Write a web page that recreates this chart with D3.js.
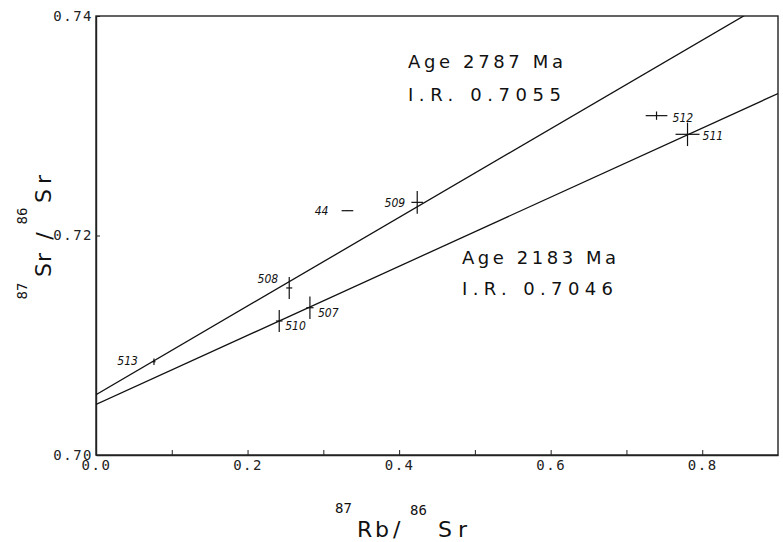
<!DOCTYPE html>
<html lang="en">
<head>
    <meta charset="UTF-8">
    <title>Rb-Sr isochron</title>
    <script src="https://cdn.jsdelivr.net/npm/d3@7/dist/d3.min.js"></script>
    <style>
        body { margin: 0; background: #fff; }
    </style>
</head>
<body>
<script>
    // sample data
    var samples = ["513", "508", "510", "507", "44", "509", "512", "511"];
    var rbsr = [0.0765, 0.255, 0.2418, 0.2823, 0.3318, 0.4239, 0.7397, 0.7806];
    var srsr = [0.70850, 0.71522, 0.71221, 0.71342, 0.72226, 0.72302, 0.73092, 0.72922];
    var rbErr = [0.002, 0.004, 0.0044, 0.0048, 0.0077, 0.0077, 0.0143, 0.0158];
    var srErr = [0.0003, 0.001, 0.001, 0.00103, 0.00003, 0.00103, 0.00038, 0.00107];

    // isochrons: age (Ma) and initial ratio
    var isoAge = [2787, 2183];
    var isoIR = [0.7055, 0.7046];
    var lambda = 1.42e-11;

    var xTicks = [0, 0.1, 0.2, 0.3, 0.4, 0.5, 0.6, 0.7, 0.8];
    var xLabels = [0, 0.2, 0.4, 0.6, 0.8];
    var yTicks = [0.70, 0.72, 0.74];

    var w = 783, h = 542;
    var x = d3.scaleLinear().domain([0, 0.9]).range([96, 778]);
    var y = d3.scaleLinear().domain([0.70, 0.74]).range([455, 16]);

    var svg = d3.select("body").append("svg")
        .attr("width", w)
        .attr("height", h);

    svg.append("defs").append("clipPath").attr("id", "plot")
        .append("rect")
        .attr("x", x(0)).attr("y", y(0.74))
        .attr("width", x(0.9) - x(0)).attr("height", y(0.70) - y(0.74));

    // frame
    svg.append("rect")
        .attr("x", x(0)).attr("y", y(0.74))
        .attr("width", x(0.9) - x(0)).attr("height", y(0.70) - y(0.74))
        .attr("fill", "none")
        .attr("stroke", "#222")
        .attr("stroke-width", 1.4);

    // axes
    var mono = "'DejaVu Sans Mono', monospace";
    var xAxis = d3.axisBottom(x).tickValues(xTicks).tickSizeInner(-5).tickSizeOuter(0)
        .tickFormat(function (d) {
            return xLabels.some(function (v) { return Math.abs(v - d) < 1e-9; }) ? d3.format(".1f")(d) : "";
        });
    var gx = svg.append("g").attr("transform", "translate(0," + y(0.70) + ")").call(xAxis);
    gx.select(".domain").attr("stroke", "#222").attr("stroke-width", 1.4);
    gx.selectAll(".tick line").attr("stroke", "#222");
    gx.selectAll(".tick text")
        .attr("y", 5).attr("dy", "0.71em")
        .attr("font-family", mono).attr("font-size", 14)
        .attr("letter-spacing", 1.5)
        .attr("fill", "#222");

    var yAxis = d3.axisLeft(y).tickValues(yTicks).tickSizeInner(-4).tickSizeOuter(0)
        .tickFormat(d3.format(".2f"));
    var gy = svg.append("g").attr("transform", "translate(" + x(0) + ",0)").call(yAxis);
    gy.select(".domain").attr("stroke", "#222").attr("stroke-width", 1.4);
    gy.selectAll(".tick line").attr("stroke", "#222");
    gy.selectAll(".tick text")
        .attr("x", -3)
        .attr("font-family", mono).attr("font-size", 14)
        .attr("letter-spacing", 1.5)
        .attr("fill", "#222");

    // isochron lines
    var lines = svg.append("g").attr("clip-path", "url(#plot)");
    isoAge.forEach(function (t, i) {
        var slope = Math.exp(lambda * t * 1e6) - 1;
        lines.append("line")
            .attr("x1", x(0)).attr("y1", y(isoIR[i]))
            .attr("x2", x(0.9)).attr("y2", y(isoIR[i] + slope * 0.9))
            .attr("stroke", "#111")
            .attr("stroke-width", 1.3);
    });

    // error crosses
    var pts = svg.append("g");
    samples.forEach(function (s, i) {
        pts.append("line")
            .attr("x1", x(rbsr[i] - rbErr[i])).attr("x2", x(rbsr[i] + rbErr[i]))
            .attr("y1", y(srsr[i])).attr("y2", y(srsr[i]))
            .attr("stroke", "#111").attr("stroke-width", 1.2);
        pts.append("line")
            .attr("x1", x(rbsr[i])).attr("x2", x(rbsr[i]))
            .attr("y1", y(srsr[i] - srErr[i])).attr("y2", y(srsr[i] + srErr[i]))
            .attr("stroke", "#111").attr("stroke-width", 1.2);
    });

    // sample labels, offset in pixels from the point
    var labelOffset = {
        "513": [-16, 3, "end"], "508": [-11, -5, "end"], "510": [6, 9, "start"],
        "507": [8, 9, "start"], "44": [-19, 4, "end"], "509": [-12, 5, "end"],
        "512": [16, 6, "start"], "511": [15, 6, "start"]
    };
    samples.forEach(function (s, i) {
        var o = labelOffset[s];
        pts.append("text")
            .text(s)
            .attr("x", x(rbsr[i]) + o[0])
            .attr("y", y(srsr[i]) + o[1])
            .attr("text-anchor", o[2])
            .attr("font-family", "'Liberation Sans Narrow', 'DejaVu Sans Condensed', sans-serif")
            .attr("font-style", "italic")
            .attr("font-size", 12)
            .attr("fill", "#111");
    });

    // annotations
    var sans = "'Liberation Sans', sans-serif";
    var light = "'DejaVu Sans ExtraLight', 'DejaVu Sans', sans-serif";
    function note(txt, px, py, len) {
        svg.append("text")
            .text(txt)
            .attr("x", px).attr("y", py)
            .attr("textLength", len).attr("lengthAdjust", "spacing")
            .attr("font-family", light).attr("font-size", 18)
            .attr("fill", "#111");
    }
    note("Age " + isoAge[0] + " Ma", 408, 68, 155);
    note("I.R. " + isoIR[0].toFixed(4), 408, 101, 153);
    note("Age " + isoAge[1] + " Ma", 462, 264, 154);
    note("I.R. " + isoIR[1].toFixed(4), 462, 295, 151);

    // axis titles
    function txt(s, px, py, size, anchor, rot) {
        var t = svg.append("text")
            .text(s)
            .attr("font-family", light).attr("font-size", size)
            .attr("text-anchor", anchor || "start")
            .attr("fill", "#111");
        if (rot) {
            t.attr("transform", "translate(" + px + "," + py + ") rotate(-90)");
        } else {
            t.attr("x", px).attr("y", py);
        }
        return t;
    }
    txt("87", 335, 513, 14).attr("font-family", mono);
    txt("Rb", 357, 537, 22).attr("textLength", 32).attr("lengthAdjust", "spacing");
    txt("/", 393, 537, 22);
    txt("86", 410, 515, 14).attr("font-family", mono);
    txt("Sr", 438, 537, 22).attr("textLength", 29).attr("lengthAdjust", "spacing");

    txt("87", 27, 291, 14, "middle", true).attr("font-family", mono);
    txt("Sr", 51, 265, 22, "middle", true).attr("textLength", 24).attr("lengthAdjust", "spacing");
    txt("/", 52, 236, 22, "middle", true);
    txt("86", 27, 216, 14, "middle", true).attr("font-family", mono);
    txt("Sr", 51, 189, 22, "middle", true).attr("textLength", 28).attr("lengthAdjust", "spacing");
</script>
</body>
</html>
